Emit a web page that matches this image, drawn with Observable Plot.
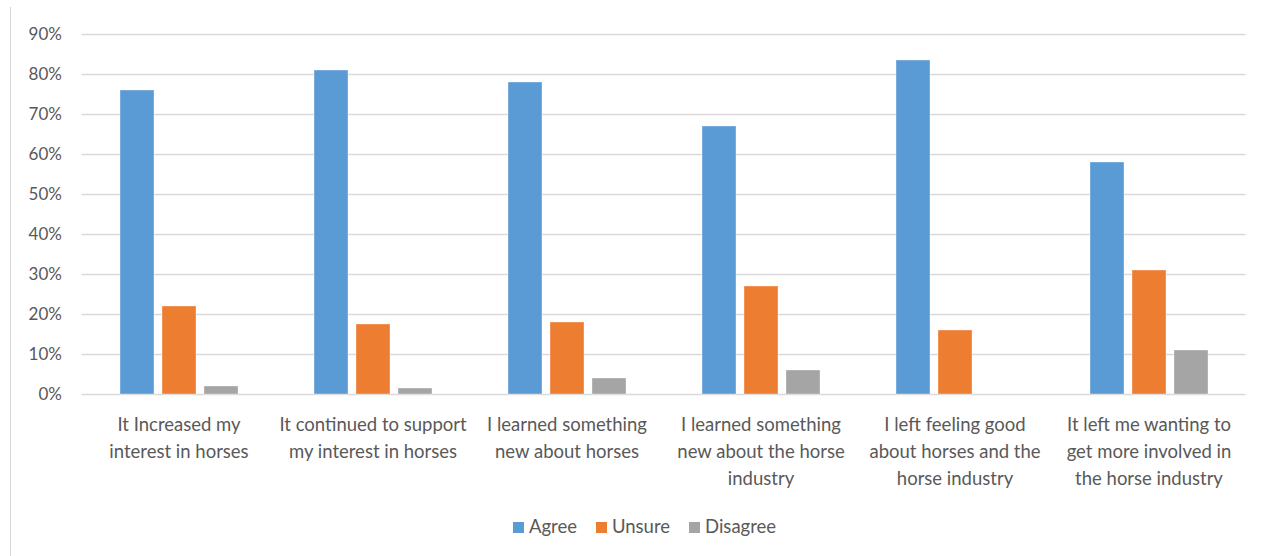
<!DOCTYPE html>
<html>
<head>
<meta charset="utf-8">
<script src="https://cdn.jsdelivr.net/npm/d3@7"></script>
<script src="https://cdn.jsdelivr.net/npm/@observablehq/plot@0.6"></script>
<style>
  html, body { margin: 0; padding: 0; background: #fff; }
  #wrap { position: relative; width: 1267px; height: 556px; overflow: hidden; font-family: Lato, "Open Sans", sans-serif; }
  #frame { position: absolute; left: 10px; top: 7px; bottom: 0; border-left: 1.5px solid #d9d9d9; }
  #legend { display: flex; justify-content: center; align-items: center; gap: 19px; font-size: 18.5px; color: #595959; margin-top: 15px; padding-left: 22px; }
  #legend span.sw { display: inline-block; width: 11px; height: 11px; margin-right: 5px; vertical-align: middle; position: relative; top: -1px; }
</style>
</head>
<body>
<div id="wrap"><div id="frame"></div><div id="chart"></div><div id="legend"></div></div>
<script>
const categories = [
  "It Increased my\ninterest in horses",
  "It continued to support\nmy interest in horses",
  "I learned something\nnew about horses",
  "I learned something\nnew about the horse\nindustry",
  "I left feeling good\nabout horses and the\nhorse industry",
  "It left me wanting to\nget more involved in\nthe horse industry"
];
const seriesNames = ["Agree", "Unsure", "Disagree"];
const seriesColors = ["#5B9BD5", "#ED7D31", "#A5A5A5"];
const agree = [0.76, 0.81, 0.78, 0.67, 0.835, 0.58];
const unsure = [0.22, 0.175, 0.18, 0.27, 0.16, 0.31];
const disagree = [0.02, 0.015, 0.04, 0.06, 0, 0.11];
const yTicks = [0, 0.1, 0.2, 0.3, 0.4, 0.5, 0.6, 0.7, 0.8, 0.9];

const values = [agree, unsure, disagree];
const data = [];
categories.forEach((c, i) => {
  seriesNames.forEach((s, j) => data.push({category: c, series: s, value: values[j][i]}));
});

const gapHalf = 37.6;

const chart = Plot.plot({
  width: 1267,
  height: 500,
  marginLeft: 80,
  marginRight: 19,
  marginTop: 34,
  marginBottom: 106,
  style: {fontFamily: "Lato, 'Open Sans', sans-serif", fontSize: "17px", color: "#595959", background: "#fff"},
  fx: {domain: categories, paddingInner: 0.385, paddingOuter: 0.1925, label: null},
  x: {domain: seriesNames, paddingInner: 0.2, paddingOuter: 0, axis: null},
  y: {domain: [0, 0.9], label: null},
  color: {domain: seriesNames, range: seriesColors},
  marks: [
    Plot.ruleY(yTicks, {stroke: "#d9d9d9", strokeWidth: 1.5, insetLeft: -gapHalf, insetRight: -gapHalf}),
    Plot.axisY(yTicks, {tickSize: 0, tickPadding: 20 + gapHalf, tickFormat: d => Math.round(d * 100) + "%", fill: "#595959", fontSize: 17, label: null}),
    Plot.barY(data, {fx: "category", x: "series", y: "value", fill: "series", stroke: "#fff", strokeOpacity: 0.35, strokeWidth: 1}),
    Plot.axisFx({anchor: "bottom", tickSize: 0, tickPadding: 17, lineHeight: 1.46, fill: "#595959", fontSize: 18.5, label: null, tickFormat: d => d})
  ]
});
document.getElementById("chart").appendChild(chart);

const legend = document.getElementById("legend");
seriesNames.forEach((s, j) => {
  const item = document.createElement("span");
  item.innerHTML = `<span class="sw" style="background:${seriesColors[j]}"></span>${s}`;
  legend.appendChild(item);
});
</script>
</body>
</html>
